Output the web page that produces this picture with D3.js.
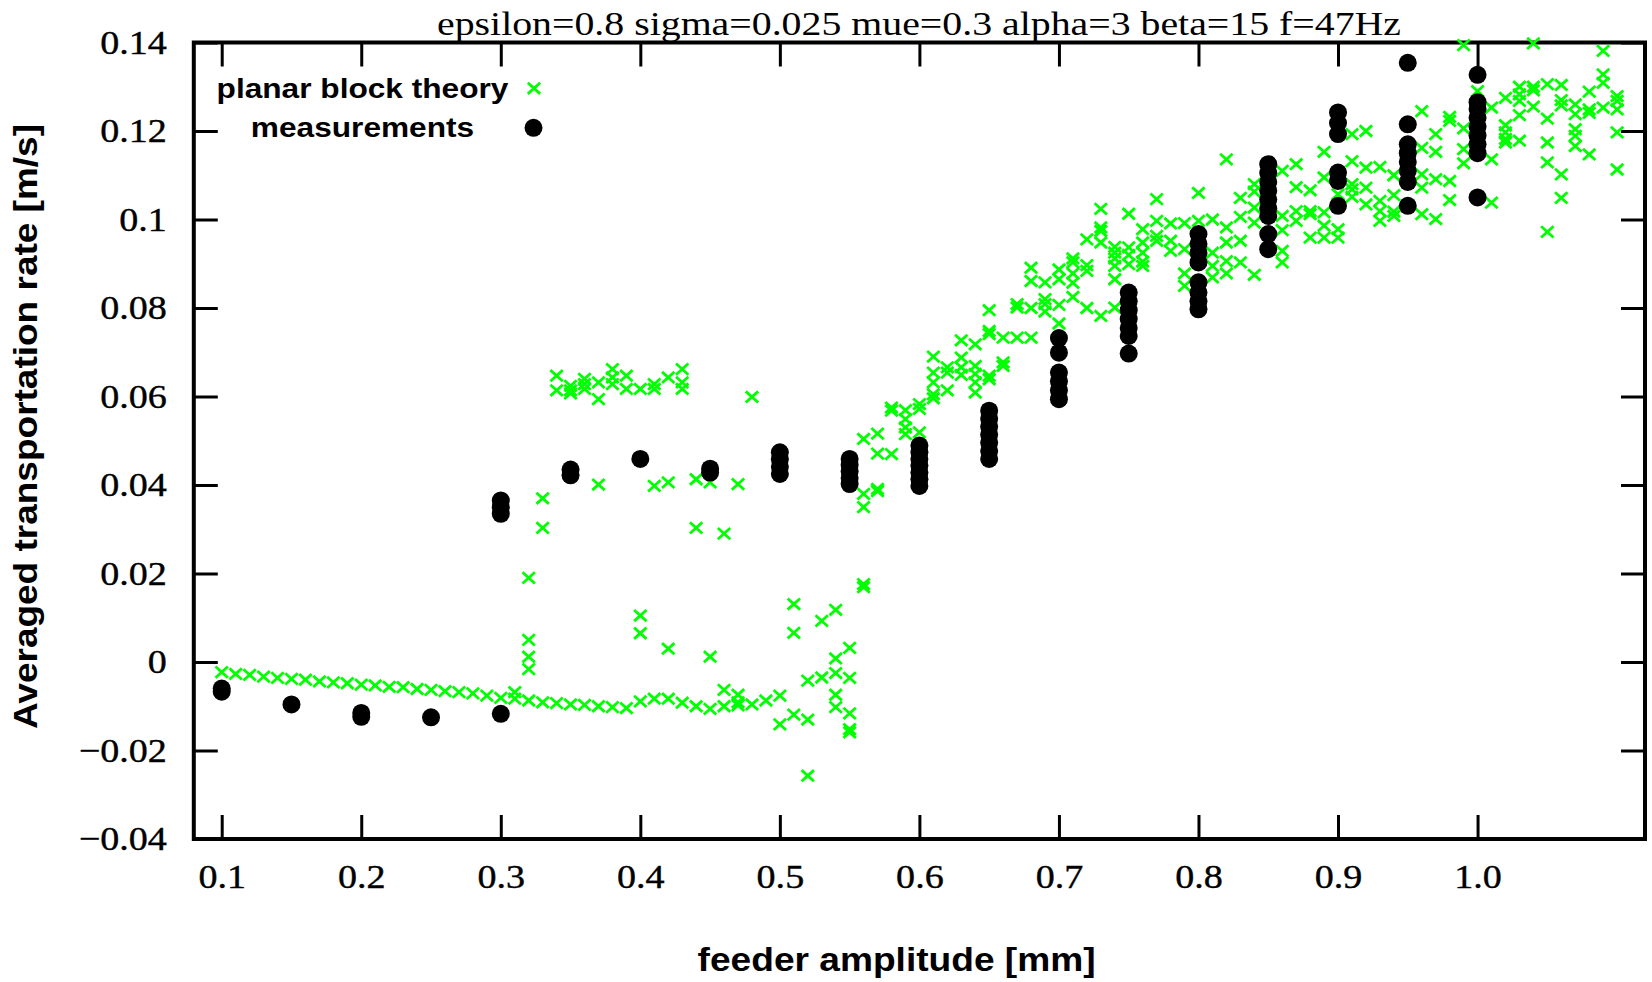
<!DOCTYPE html>
<html>
<head>
<meta charset="utf-8">
<script src="https://cdn.jsdelivr.net/npm/d3@7"></script>
<style>
  body { margin: 0; background: #fff; }
  svg { display: block; }
</style>
</head>
<body>
<div id="chart"></div>
<script>
// ---- data ----
const title = 'epsilon=0.8 sigma=0.025 mue=0.3 alpha=3 beta=15 f=47Hz'
const xLabel = 'feeder amplitude [mm]'
const yLabel = 'Averaged transportation rate [m/s]'
const legendNames = ['planar block theory', 'measurements']

const xTicks = [0.1, 0.2, 0.3, 0.4, 0.5, 0.6, 0.7, 0.8, 0.9, 1.0]
const yTicks = [-0.04, -0.02, 0, 0.02, 0.04, 0.06, 0.08, 0.1, 0.12, 0.14]

// theory: one amplitude per column, several rates per column
const theoryAmp = [0.10, 0.11, 0.12, 0.13, 0.14, 0.15, 0.16, 0.17, 0.18, 0.19,
  0.20, 0.21, 0.22, 0.23, 0.24, 0.25, 0.26, 0.27, 0.28, 0.29,
  0.30, 0.31, 0.32, 0.33, 0.34, 0.35, 0.36, 0.37, 0.38, 0.39,
  0.40, 0.41, 0.42, 0.43, 0.44, 0.45, 0.46, 0.47, 0.48, 0.49,
  0.50, 0.51, 0.52, 0.53, 0.54, 0.55, 0.56, 0.57, 0.58, 0.59,
  0.60, 0.61, 0.62, 0.63, 0.64, 0.65, 0.66, 0.67, 0.68, 0.69,
  0.70, 0.71, 0.72, 0.73, 0.74, 0.75, 0.76, 0.77, 0.78, 0.79,
  0.80, 0.81, 0.82, 0.83, 0.84, 0.86, 0.87, 0.88, 0.89,
  0.90, 0.91, 0.92, 0.93, 0.94, 0.96, 0.97, 0.98, 0.99,
  1.00, 1.01, 1.02, 1.03, 1.04, 1.05, 1.06, 1.07, 1.08, 1.09, 1.10]
const theoryRate = [
  [-0.0023], [-0.0027], [-0.0029], [-0.0033], [-0.0036], [-0.0038], [-0.0040], [-0.0044], [-0.0046], [-0.0048],
  [-0.0051], [-0.0053], [-0.0056], [-0.0057], [-0.0061], [-0.0063], [-0.0066], [-0.0068], [-0.0071], [-0.0076],
  [-0.0081],
  [-0.0068, -0.0083],
  [0.0190, 0.0050, 0.0012, -0.0016, -0.0087],
  [0.0370, 0.0303, -0.0091],
  [0.0647, 0.0614, -0.0093],
  [0.0624, 0.0614, 0.0607, -0.0096],
  [0.0640, 0.0628, 0.0617, -0.0097],
  [0.0632, 0.0594, 0.0401, -0.0100],
  [0.0662, 0.0643, 0.0628, -0.0102],
  [0.0647, 0.0617, -0.0104],
  [0.0617, 0.0105, 0.0065, -0.0089],
  [0.0628, 0.0617, 0.0398, -0.0083],
  [0.0643, 0.0406, 0.0030, -0.0083],
  [0.0662, 0.0632, 0.0617, -0.0092],
  [0.0413, 0.0303, -0.0100],
  [0.0406, 0.0012, -0.0106],
  [0.0290, -0.0063, -0.0100],
  [0.0402, -0.0074, -0.0091, -0.0098],
  [0.0599, -0.0096],
  [-0.0087],
  [-0.0076, -0.0141],
  [0.0131, 0.0066, -0.0119],
  [-0.0042, -0.0130, -0.0257],
  [0.0093, -0.0035],
  [0.0118, 0.0008, -0.0025, -0.0074, -0.0102],
  [0.0032, -0.0036, -0.0116, -0.0152, -0.0159],
  [0.0504, 0.0380, 0.0350, 0.0176, 0.0169],
  [0.0516, 0.0471, 0.0391, 0.0386],
  [0.0575, 0.0568, 0.0470],
  [0.0569, 0.0549, 0.0530, 0.0515],
  [0.0583, 0.0572, 0.0519],
  [0.0690, 0.0654, 0.0632, 0.0605, 0.0596],
  [0.0666, 0.0654, 0.0614],
  [0.0727, 0.0688, 0.0666, 0.0649],
  [0.0718, 0.0669, 0.0651, 0.0632, 0.0609],
  [0.0795, 0.0748, 0.0741, 0.0647, 0.0639],
  [0.0733, 0.0677, 0.0669],
  [0.0809, 0.0801, 0.0733],
  [0.0891, 0.0861, 0.0800, 0.0733],
  [0.0858, 0.0820, 0.0809, 0.0792],
  [0.0887, 0.0865, 0.0807, 0.0765],
  [0.0912, 0.0903, 0.0878, 0.0857, 0.0825],
  [0.0955, 0.0897, 0.0884, 0.0800],
  [0.1024, 0.0982, 0.0974, 0.0948, 0.0782],
  [0.0938, 0.0925, 0.0912, 0.0895, 0.0865, 0.0801],
  [0.1013, 0.0937, 0.0920, 0.0899],
  [0.0978, 0.0948, 0.0925, 0.0905, 0.0895],
  [0.1046, 0.0997, 0.0963, 0.0952],
  [0.0991, 0.0952, 0.0929],
  [0.0992, 0.0933, 0.0878, 0.0850],
  [0.1060, 0.0997],
  [0.1000, 0.0925, 0.0895, 0.0869],
  [0.1136, 0.0982, 0.0948, 0.0906, 0.0878],
  [0.1049, 0.1006, 0.0952, 0.0903],
  [0.1080, 0.1063, 0.1027, 0.0993, 0.0875],
  [0.1110, 0.1008, 0.0976, 0.0929, 0.0903],
  [0.1125, 0.1073, 0.1019, 0.0997],
  [0.1066, 0.1019, 0.1012, 0.0959],
  [0.1153, 0.1095, 0.1016, 0.0986, 0.0959],
  [0.1057, 0.0978, 0.0959],
  [0.1193, 0.1132, 0.1080, 0.1068, 0.1051],
  [0.1200, 0.1117, 0.1072, 0.1034],
  [0.1119, 0.1042, 0.1019, 0.0997],
  [0.1100, 0.1055, 0.1018, 0.1008],
  [0.1245, 0.1162, 0.1102, 0.1072, 0.1012],
  [0.1193, 0.1153, 0.1091, 0.1001],
  [0.1232, 0.1223, 0.1087, 0.1044],
  [0.1394, 0.1206, 0.1159, 0.1127],
  [0.1290],
  [0.1253, 0.1136, 0.1038],
  [0.1275, 0.1213, 0.1197, 0.1182, 0.1174],
  [0.1300, 0.1283, 0.1268, 0.1236, 0.1178],
  [0.1398, 0.1300, 0.1292, 0.1255],
  [0.1306, 0.1228, 0.1174, 0.1129, 0.0972],
  [0.1304, 0.1270, 0.1258, 0.1102, 0.1049],
  [0.1260, 0.1238, 0.1204, 0.1189, 0.1166],
  [0.1289, 0.1249, 0.1241, 0.1147],
  [0.1381, 0.1328, 0.1309, 0.1253],
  [0.1279, 0.1268, 0.1249, 0.1197, 0.1113]
]

// measurements
const measAmp = [0.10, 0.15, 0.20, 0.25, 0.30, 0.35, 0.40, 0.45, 0.50, 0.55,
  0.60, 0.65, 0.70, 0.75, 0.80, 0.85, 0.90, 0.95, 1.00]
const measRate = [
  [-0.0060, -0.0067],
  [-0.0096],
  [-0.0115, -0.0124],
  [-0.0125],
  [0.0365, 0.0350, 0.0335, -0.0117],
  [0.0435, 0.0422],
  [0.0459],
  [0.0437, 0.0428],
  [0.0474, 0.0458, 0.0441, 0.0425],
  [0.0459, 0.0445, 0.0431, 0.0416, 0.0402],
  [0.0489, 0.0474, 0.0459, 0.0444, 0.0428, 0.0413, 0.0398],
  [0.0568, 0.0550, 0.0532, 0.0514, 0.0496, 0.0477, 0.0459],
  [0.0732, 0.0699, 0.0654, 0.0634, 0.0614, 0.0594],
  [0.0835, 0.0815, 0.0795, 0.0775, 0.0755, 0.0737, 0.0697],
  [0.0967, 0.0945, 0.0925, 0.0903, 0.0858, 0.0835, 0.0815, 0.0797],
  [0.1125, 0.1105, 0.1085, 0.1065, 0.1045, 0.1025, 0.1008, 0.0967, 0.0933],
  [0.1242, 0.1218, 0.1193, 0.1106, 0.1087, 0.1031],
  [0.1354, 0.1215, 0.1170, 0.1150, 0.1130, 0.1110, 0.1085, 0.1031],
  [0.1327, 0.1265, 0.1250, 0.1230, 0.1210, 0.1190, 0.1170, 0.1150, 0.1050]
]

// ---- layout ----
const totalWidth = 1652
const totalHeight = 982
const margin = { top: 42.5, left: 193.8, right: 7, bottom: 143 }
const width = totalWidth - margin.left - margin.right
const height = totalHeight - margin.top - margin.bottom

const serif = '"Liberation Serif", "Times New Roman", serif'
const sans = '"Liberation Sans", Arial, sans-serif'
const green = '#00ff00'
const tickLen = 24

// flatten the columns into points
const theory = theoryAmp.flatMap((a, i) => theoryRate[i].map(r => ({ amp: a, rate: r })))
const meas = measAmp.flatMap((a, i) => measRate[i].map(r => ({ amp: a, rate: r })))

const svg = d3.select('#chart').append('svg')
  .attr('width', totalWidth)
  .attr('height', totalHeight)

svg.append('rect').attr('width', totalWidth).attr('height', totalHeight).attr('fill', '#fff')

const g = svg.append('g')
  .attr('transform', `translate(${ margin.left }, ${ margin.top })`)

const x = d3.scaleLinear().domain([0.08, 1.12]).range([0, width])
const y = d3.scaleLinear().domain([-0.04, 0.14]).range([height, 0])

// stretch text sideways, the picture is wider than its fonts
function stretch(sel, k) {
  sel.each(function() {
    const w = this.getComputedTextLength()
    d3.select(this).attr('textLength', w * k).attr('lengthAdjust', 'spacingAndGlyphs')
  })
}

function cleanAxis(sel) {
  sel.select('.domain').remove()
  sel.selectAll('.tick line').attr('stroke', '#000').attr('stroke-width', 3)
  sel.attr('font-family', serif).attr('font-size', 34)
  sel.selectAll('.tick text').attr('fill', '#000').attr('stroke', '#000').attr('stroke-width', 0.4)
}

// axes: inward ticks on all four sides
const xAxisGroup = g.append('g')
  .attr('transform', `translate(0, ${ height })`)
  .call(d3.axisBottom(x).tickValues(xTicks).tickSize(-tickLen).tickPadding(25).tickFormat(d3.format('.1f')))
  .call(cleanAxis)
g.append('g')
  .call(d3.axisTop(x).tickValues(xTicks).tickSize(-tickLen).tickFormat(''))
  .call(cleanAxis)
const yAxisGroup = g.append('g')
  .call(d3.axisLeft(y).tickValues(yTicks).tickSize(-tickLen).tickPadding(27).tickFormat(d3.format('~g')))
  .call(cleanAxis)
g.append('g')
  .attr('transform', `translate(${ width }, 0)`)
  .call(d3.axisRight(y).tickValues(yTicks).tickSize(-tickLen).tickFormat(''))
  .call(cleanAxis)

stretch(xAxisGroup.selectAll('.tick text'), 1.12)
stretch(yAxisGroup.selectAll('.tick text'), 1.12)

// frame
g.append('rect')
  .attr('width', width)
  .attr('height', height)
  .attr('fill', 'none')
  .attr('stroke', '#000')
  .attr('stroke-width', 4)

// theory crosses
const cross = 'M-6.2,-5.6L6.2,5.6M-6.2,5.6L6.2,-5.6'
g.append('g').selectAll('path')
  .data(theory)
  .join('path')
  .attr('transform', d => `translate(${ x(d.amp) }, ${ y(d.rate) })`)
  .attr('d', cross)
  .attr('fill', 'none')
  .attr('stroke', green)
  .attr('stroke-width', 2.8)

// measurement dots
g.append('g').selectAll('circle')
  .data(meas)
  .join('circle')
  .attr('cx', d => x(d.amp))
  .attr('cy', d => y(d.rate))
  .attr('r', 9)
  .attr('fill', '#000')

// title
svg.append('text')
  .attr('x', 919)
  .attr('y', 35)
  .attr('text-anchor', 'middle')
  .attr('font-family', serif)
  .attr('font-size', 33)
  .attr('textLength', 964)
  .attr('lengthAdjust', 'spacingAndGlyphs')
  .text(title)

// axis labels
svg.append('text')
  .attr('x', 896.6)
  .attr('y', 971)
  .attr('text-anchor', 'middle')
  .attr('font-family', sans)
  .attr('font-weight', 'bold')
  .attr('font-size', 33)
  .attr('textLength', 398)
  .attr('lengthAdjust', 'spacingAndGlyphs')
  .text(xLabel)

svg.append('text')
  .attr('transform', 'translate(37, 426.5) rotate(-90)')
  .attr('text-anchor', 'middle')
  .attr('font-family', sans)
  .attr('font-weight', 'bold')
  .attr('font-size', 33)
  .attr('textLength', 605)
  .attr('lengthAdjust', 'spacingAndGlyphs')
  .text(yLabel)

// legend
const legend = svg.append('g').attr('transform', 'translate(362.5, 88.3)')
const rowGap = 39.5
legendNames.forEach((name, i) => {
  legend.append('text')
    .attr('x', 0)
    .attr('y', i * rowGap + 9.5)
    .attr('text-anchor', 'middle')
    .attr('font-family', sans)
    .attr('font-weight', 'bold')
    .attr('font-size', 28)
    .text(name)
    .call(stretch, 1.13)
})
legend.append('path')
  .attr('transform', 'translate(171.5, 0)')
  .attr('d', cross)
  .attr('fill', 'none')
  .attr('stroke', green)
  .attr('stroke-width', 2.8)
legend.append('circle')
  .attr('cx', 171)
  .attr('cy', rowGap)
  .attr('r', 9)
  .attr('fill', '#000')
</script>
</body>
</html>
